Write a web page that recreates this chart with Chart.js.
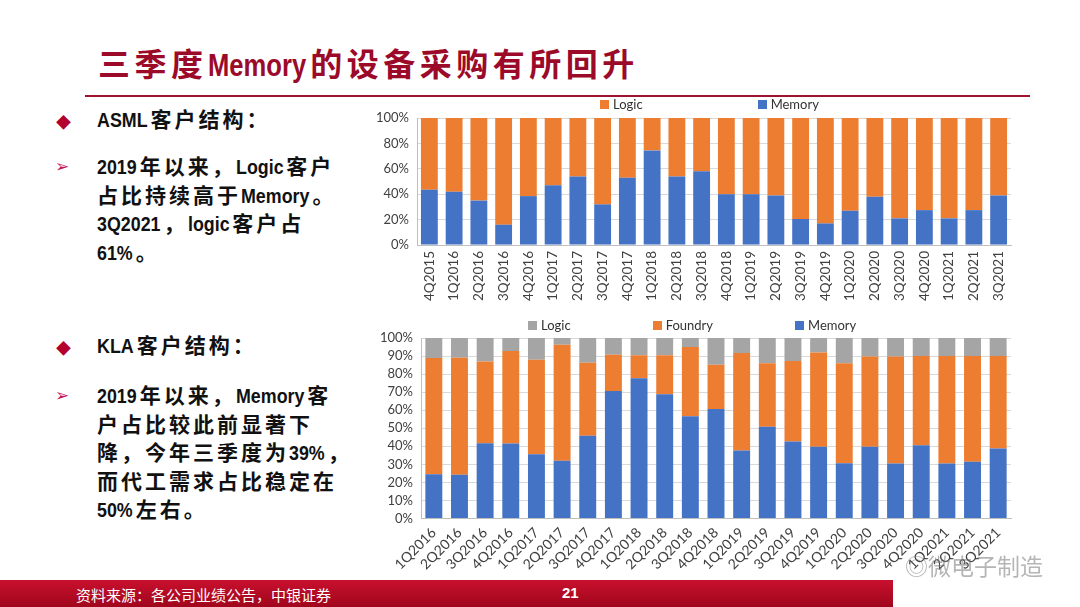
<!DOCTYPE html>
<html>
<head>
<meta charset="utf-8">
<script src="https://cdn.jsdelivr.net/npm/chart.js@4.4.0/dist/chart.umd.min.js"></script>
<style>
  html, body { margin: 0; padding: 0; background: #fff; }
  #page { position: relative; width: 1080px; height: 607px; overflow: hidden; background: #fff;
          font-family: "Liberation Sans", "Noto Sans CJK SC", sans-serif; }
  .title { position: absolute; left: 98px; top: 39px; font-size: 32px; font-weight: bold; color: #9c0a2a;
           letter-spacing: 4.5px; white-space: nowrap; font-family: "Liberation Sans", "Noto Sans CJK SC", sans-serif; }
  .rule { position: absolute; left: 85px; top: 95px; width: 945px; height: 2px; background: #9c1430; }
  .txt { position: absolute; left: 97px; font-size: 21px; font-weight: bold; color: #111; line-height: 28.5px;
         letter-spacing: 3px; white-space: nowrap; }
  .lat { letter-spacing: 0; display: inline-block; transform-origin: 0 50%; }
  .dia { position: absolute; left: 56px; font-size: 15px; color: #b3002d; }
  .arr { position: absolute; left: 55px; font-size: 17px; color: #c2185b; font-family: "DejaVu Sans"; }
  .box { position: absolute; }
  .legend { position: absolute; font-family: Lato, "Open Sans", sans-serif; font-size: 13px; color: #333; white-space: nowrap; }
  .legend span.sw { display: inline-block; width: 9px; height: 9px; margin-right: 4px; vertical-align: 0px; }
  .footer { position: absolute; left: 0; top: 580px; width: 893px; height: 27px; background: linear-gradient(#c8102e, #a0061c); }
  .footer .src { position: absolute; left: 76px; top: 4px; color: #fff; font-size: 15px;
                 font-family: "Noto Sans CJK SC", sans-serif; }
  .footer .pg { position: absolute; left: 562px; top: 4px; color: #fff; font-size: 15px; font-weight: bold; }
  .wm { position: absolute; left: 905px; top: 548px; font-size: 23px; color: rgba(120,120,120,0.55);
        font-family: "Noto Sans CJK SC", sans-serif; }
</style>
</head>
<body>
<div id="page">
  <div class="title sp" data-k="0.8">三季度Memory的设备采购有所回升</div>
  <div class="rule"></div>

  <div class="dia" style="top:111px">◆</div>
  <div class="txt sp" data-k="0.85" style="top:106px">ASML客户结构：</div>
  <div class="arr" style="top:156px">➢</div>
  <div class="txt sp" data-k="0.85" style="top:153px">2019年以来，Logic客户<br>占比持续高于Memory。<br>3Q2021，logic客户占<br>61%。</div>

  <div class="dia" style="top:337px">◆</div>
  <div class="txt sp" data-k="0.85" style="top:332px">KLA客户结构：</div>
  <div class="arr" style="top:385px">➢</div>
  <div class="txt sp" data-k="0.85" style="top:382px">2019年以来，Memory客<br>户占比较此前显著下<br>降，今年三季度为39%，<br>而代工需求占比稳定在<br>50%左右。</div>

  <div class="box" style="left:355px; top:95px; width:675px; height:212px;"><canvas id="asmlChart"></canvas></div>
  <div class="legend" id="asmlLegend" style="left:600px; top:96px;"></div>

  <div class="box" style="left:355px; top:313px; width:675px; height:270px;"><canvas id="klaChart"></canvas></div>
  <div class="legend" id="klaLegend" style="left:528px; top:317px;"></div>

  <div class="wm">◎微电子制造</div>

  <div class="footer">
    <div class="src">资料来源：各公司业绩公告，中银证券</div>
    <div class="pg">21</div>
  </div>
</div>

<script>
// -- dados ASML (%) --
const asmlQuarters = ['4Q2015','1Q2016','2Q2016','3Q2016','4Q2016','1Q2017','2Q2017','3Q2017','4Q2017',
  '1Q2018','2Q2018','3Q2018','4Q2018','1Q2019','2Q2019','3Q2019','4Q2019','1Q2020','2Q2020','3Q2020',
  '4Q2020','1Q2021','2Q2021','3Q2021'];
const asmlMemory = [43.5, 42, 35, 16, 38.5, 47, 54, 32, 53, 74.5, 54, 58, 40, 40, 39, 20.5, 17, 27, 38, 21, 27.5, 21, 27.5, 39];
const asmlLogic  = [56.5, 58, 65, 84, 61.5, 53, 46, 68, 47, 25.5, 46, 42, 60, 60, 61, 79.5, 83, 73, 62, 79, 72.5, 79, 72.5, 61];

// -- dados KLA (%) --
const klaQuarters = ['1Q2016','2Q2016','3Q2016','4Q2016','1Q2017','2Q2017','3Q2017','4Q2017',
  '1Q2018','2Q2018','3Q2018','4Q2018','1Q2019','2Q2019','3Q2019','4Q2019','1Q2020','2Q2020','3Q2020',
  '4Q2020','1Q2021','2Q2021','3Q2021'];
const klaMemory  = [24.5, 24.3, 41.7, 41.6, 35.6, 32, 45.8, 70.7, 77.7, 68.8, 56.6, 60.7, 37.7, 50.8, 42.7, 39.7, 30.6, 39.7, 30.4, 40.6, 30.4, 31.5, 38.8];
const klaFoundry = [64.4, 64.7, 45.3, 51.2, 52.4, 64.3, 40.5, 20, 12.7, 21.6, 38.4, 24.5, 54, 35.2, 44.5, 52.3, 55.4, 50.1, 59.4, 49.4, 59.6, 58.5, 51.2];
const klaLogic   = [11.1, 11, 13, 7.2, 12, 3.7, 13.7, 9.3, 9.6, 9.6, 5, 14.8, 8.3, 14, 12.8, 8, 14, 10.2, 10.2, 10, 10, 10, 10];

const COR_MEM = '#4472c4';
const COR_FOU = '#ed7d31';
const COR_LOG = '#a5a5a5';
const TICK_FONT = { family: 'Lato, "Open Sans", sans-serif', size: 13 };

// espaçamento só nos caracteres chineses; latim fica junto e mais estreito (tipo Arial Narrow)
function ajustarEspacos() {
  document.querySelectorAll('.sp').forEach(el => {
    const k = parseFloat(el.dataset.k || '1');
    const gap = parseFloat(getComputedStyle(el).letterSpacing) || 0;
    el.innerHTML = el.innerHTML.replace(/(<br>)|([A-Za-z0-9%]+)/g, (m, br, lat) =>
      br ? br : `<span class="lat">${lat}</span>`);
    el.querySelectorAll('.lat').forEach(s => {
      const w = s.getBoundingClientRect().width;
      s.style.transform = `scaleX(${k})`;
      s.style.marginRight = (gap - w * (1 - k)) + 'px';
    });
  });
}

// legenda em html (espaçamento largo como no excel)
function montarLegenda(el, itens, gap) {
  el.innerHTML = itens.map((it, i) =>
    `<span style="margin-right:${i < itens.length - 1 ? gap : 0}px"><span class="sw" style="background:${it.cor}"></span>${it.nome}</span>`
  ).join('');
}

function opcoes(yStep, rot, yWidth, pad, xFont) {
  return {
    responsive: true,
    maintainAspectRatio: false,
    animation: false,
    layout: { padding: { top: pad.top, right: 19, left: 0, bottom: pad.bottom } },
    plugins: { legend: { display: false }, tooltip: { enabled: false } },
    scales: {
      x: {
        stacked: true,
        grid: { display: false, drawTicks: false },
        border: { color: '#bfbfbf' },
        ticks: { font: xFont, color: '#404040', minRotation: rot, maxRotation: rot, autoSkip: false, padding: 6 }
      },
      y: {
        stacked: true, min: 0, max: 100,
        afterFit: (s) => { s.width = yWidth; },
        grid: { color: '#d9d9d9', drawTicks: false },
        border: { color: '#bfbfbf' },
        ticks: { stepSize: yStep, autoSkip: false, font: TICK_FONT, color: '#404040', padding: 8, callback: v => v + '%' }
      }
    }
  };
}

window.onload = () => {
  ajustarEspacos();
  montarLegenda(document.getElementById('asmlLegend'),
    [{ nome: 'Logic', cor: COR_FOU }, { nome: 'Memory', cor: COR_MEM }], 115);
  montarLegenda(document.getElementById('klaLegend'),
    [{ nome: 'Logic', cor: COR_LOG }, { nome: 'Foundry', cor: COR_FOU }, { nome: 'Memory', cor: COR_MEM }], 82);

  new Chart(document.getElementById('asmlChart').getContext('2d'), {
    type: 'bar',
    data: {
      labels: asmlQuarters,
      datasets: [
        { label: 'Memory', data: asmlMemory, backgroundColor: COR_MEM, barPercentage: 0.68, categoryPercentage: 1 },
        { label: 'Logic', data: asmlLogic, backgroundColor: COR_FOU, barPercentage: 0.68, categoryPercentage: 1 }
      ]
    },
    options: opcoes(20, 90, 62, { top: 23, bottom: 0 }, { family: TICK_FONT.family, size: 13.5 })
  });

  new Chart(document.getElementById('klaChart').getContext('2d'), {
    type: 'bar',
    data: {
      labels: klaQuarters,
      datasets: [
        { label: 'Memory', data: klaMemory, backgroundColor: COR_MEM, barPercentage: 0.66, categoryPercentage: 1 },
        { label: 'Foundry', data: klaFoundry, backgroundColor: COR_FOU, barPercentage: 0.66, categoryPercentage: 1 },
        { label: 'Logic', data: klaLogic, backgroundColor: COR_LOG, barPercentage: 0.66, categoryPercentage: 1 }
      ]
    },
    options: opcoes(10, 45, 66, { top: 25, bottom: 4 }, { family: TICK_FONT.family, size: 14 })
  });
};
</script>
</body>
</html>
